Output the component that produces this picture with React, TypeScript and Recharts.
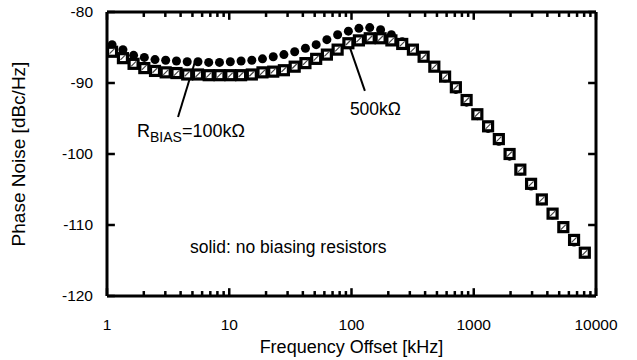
import React from 'react';
import { ScatterChart, Scatter, XAxis, YAxis, ReferenceLine, ReferenceDot } from 'recharts';

// ---- data ----
const freqKHz = [1.10, 1.35, 1.65, 2.02, 2.47, 3.02, 3.70, 4.53, 5.55, 6.79, 8.32, 10.2, 12.5, 15.3, 18.7, 22.9, 28.0, 34.3, 42.0, 51.4, 62.9, 77.0, 94.3, 115, 141, 173, 212, 260, 318, 389, 476, 583, 714, 874, 1070, 1310, 1604, 1964, 2405, 2944, 3605, 4414, 5404, 6616, 8100];
const noBias = [-84.6, -85.3, -86.1, -86.4, -86.7, -86.8, -86.9, -87.0, -87.0, -87.1, -87.1, -87.0, -86.9, -86.8, -86.6, -86.3, -86.0, -85.6, -85.1, -84.6, -83.9, -83.2, -82.7, -82.3, -82.2, -82.5, -83.2, -84.2, -85.2, -86.3, -87.8, -89.3, -90.9, -92.7, -94.6, -96.4, -98.2, -100.3, -102.4, -104.5, -106.6, -108.6, -110.5, -112.4, -114.1];
const rBias100k = [-85.6, -86.5, -87.3, -87.9, -88.3, -88.5, -88.6, -88.8, -88.8, -88.9, -88.9, -88.9, -88.9, -88.8, -88.5, -88.4, -88.2, -87.7, -87.2, -86.6, -86.0, -85.3, -84.4, -84.0, -83.7, -83.7, -84.0, -84.5, -85.3, -86.3, -87.7, -89.1, -90.6, -92.4, -94.4, -96.1, -97.9, -100.0, -102.2, -104.2, -106.4, -108.4, -110.3, -112.1, -113.9];
const rBias500k = [-85.5, -86.4, -87.3, -87.8, -88.2, -88.5, -88.6, -88.7, -88.8, -88.9, -88.9, -88.9, -88.8, -88.7, -88.5, -88.3, -88.1, -87.6, -87.1, -86.5, -85.9, -85.2, -84.3, -83.9, -83.7, -83.7, -84.0, -84.5, -85.3, -86.3, -87.7, -89.1, -90.6, -92.4, -94.4, -96.1, -97.9, -100.0, -102.2, -104.2, -106.4, -108.4, -110.3, -112.1, -113.9];

const xMajorTicks = [1, 10, 100, 1000, 10000];
const xMinorTicks = [2, 3, 4, 5, 6, 7, 8, 9, 20, 30, 40, 50, 60, 70, 80, 90, 200, 300, 400, 500, 600, 700, 800, 900, 2000, 3000, 4000, 5000, 6000, 7000, 8000, 9000];
const yTicks = [-120, -110, -100, -90, -80];

const rowsNoBias = freqKHz.map((f, i) => ({ f, v: noBias[i] }));
const rows100k = freqKHz.map((f, i) => ({ f, v: rBias100k[i] }));
const rows500k = freqKHz.map((f, i) => ({ f, v: rBias500k[i] }));

// ---- layout / styling ----
const W = 637;
const H = 360;
const PLOT_LEFT = 107;
const PLOT_RIGHT = 596;
const PLOT_TOP = 12;
const PLOT_BOTTOM = 296;
const FONT = '"Liberation Sans", Arial, Helvetica, sans-serif';
const INK = '#000000';
const X_MIN = 1;
const X_MAX = 10000;
const Y_MIN = -120;
const Y_MAX = -80;
const X_MAJOR_LEN = 1.1; // tick length in dB (~8px)
const X_MINOR_LEN = 0.7; // tick length in dB (~5px)
const Y_TICK_FACTOR = 1.16; // tick length on the log axis (~8px)

const TICK_SEGMENTS = [
  ...xMajorTicks.flatMap((t) => [
    { key: `xb${t}`, segment: [{ x: t, y: Y_MIN }, { x: t, y: Y_MIN + X_MAJOR_LEN }] },
    { key: `xt${t}`, segment: [{ x: t, y: Y_MAX }, { x: t, y: Y_MAX - X_MAJOR_LEN }] },
  ]),
  ...xMinorTicks.flatMap((t) => [
    { key: `mb${t}`, segment: [{ x: t, y: Y_MIN }, { x: t, y: Y_MIN + X_MINOR_LEN }] },
    { key: `mt${t}`, segment: [{ x: t, y: Y_MAX }, { x: t, y: Y_MAX - X_MINOR_LEN }] },
  ]),
  ...yTicks.flatMap((t) => [
    { key: `yl${t}`, segment: [{ x: X_MIN, y: t }, { x: X_MIN * Y_TICK_FACTOR, y: t }] },
    { key: `yr${t}`, segment: [{ x: X_MAX / Y_TICK_FACTOR, y: t }, { x: X_MAX, y: t }] },
  ]),
];

const renderBottomTick = (props: any) => {
  const { x, payload } = props;
  return (
    <text key={`bt-${payload.value}`} x={x} y={PLOT_BOTTOM + 34} textAnchor="middle" fontFamily={FONT} fontSize={15.5} fill={INK}>
      {payload.value}
    </text>
  );
};

const renderLeftTick = (props: any) => {
  const { y, payload } = props;
  return (
    <text key={`lt-${payload.value}`} x={PLOT_LEFT - 14} y={y + 5} textAnchor="end" fontFamily={FONT} fontSize={15.5} fill={INK}>
      {payload.value}
    </text>
  );
};

const DotShape = (props: any) => <circle cx={props.cx} cy={props.cy} r={4.5} fill={INK} />;
const SquareShape = (props: any) => (
  <rect x={props.cx - 4.5} y={props.cy - 4.5} width={9} height={9} fill="#fff" stroke={INK} strokeWidth={3.2} />
);
const SlashShape = (props: any) => (
  <line x1={props.cx - 2.5} y1={props.cy + 2.5} x2={props.cx + 2.5} y2={props.cy - 2.5} stroke="#444" strokeWidth={1.2} />
);
const Text500k = (props: any) => (
  <text x={props.cx} y={props.cy} fontFamily={FONT} fontSize={17.5} fill={INK}>500kΩ</text>
);

const DOT_EL = <DotShape />;
const SQUARE_EL = <SquareShape />;
const SLASH_EL = <SlashShape />;
const T500_EL = <Text500k />;

// annotation anchors (data coordinates)
const ann100kLine = [{ x: 3.81, y: -94.8 }, { x: 5.24, y: -87.0 }];
const ann500kLine = [{ x: 128.7, y: -91.1 }, { x: 93.5, y: -84.2 }];

const X_DOMAIN = [X_MIN, X_MAX];
const Y_DOMAIN = [Y_MIN, Y_MAX];
const MARGIN = { top: PLOT_TOP, right: W - PLOT_RIGHT, bottom: 0, left: 0 };
const X_LABEL = { value: 'Frequency Offset [kHz]', position: 'insideBottom', offset: 7, fontFamily: FONT, fontSize: 18, fill: INK };
const Y_LABEL = { value: 'Phase Noise [dBc/Hz]', angle: -90, position: 'insideLeft', offset: 18, fontFamily: FONT, fontSize: 19, fill: INK, style: { textAnchor: 'middle' } };

export default function App() {
  return (
    <div style={{ position: 'absolute', left: 0, top: 0, width: W, height: H, background: '#fff' }}>
      <ScatterChart width={W} height={H} margin={MARGIN}>
        <XAxis xAxisId="b" orientation="bottom" type="number" dataKey="f" scale="log" domain={X_DOMAIN} ticks={xMajorTicks} interval={0} allowDataOverflow height={H - PLOT_BOTTOM} stroke={INK} tickSize={0} tick={renderBottomTick} label={X_LABEL} />
        <YAxis yAxisId="l" type="number" domain={Y_DOMAIN} ticks={yTicks} width={PLOT_LEFT} stroke={INK} tickSize={0} tick={renderLeftTick} label={Y_LABEL} />
        <ReferenceLine xAxisId="b" yAxisId="l" x={X_MIN} stroke={INK} strokeWidth={3} ifOverflow="visible" />
        <ReferenceLine xAxisId="b" yAxisId="l" x={X_MAX} stroke={INK} strokeWidth={3} ifOverflow="visible" />
        <ReferenceLine xAxisId="b" yAxisId="l" y={Y_MAX} stroke={INK} strokeWidth={3} ifOverflow="visible" />
        <ReferenceLine xAxisId="b" yAxisId="l" y={Y_MIN} stroke={INK} strokeWidth={3} ifOverflow="visible" />
        {TICK_SEGMENTS.map((s) => (
          <ReferenceLine key={s.key} xAxisId="b" yAxisId="l" segment={s.segment} stroke={INK} strokeWidth={2.5} ifOverflow="visible" />
        ))}
        <Scatter data={rowsNoBias} dataKey="v" xAxisId="b" yAxisId="l" shape={DOT_EL} isAnimationActive={false} />
        <Scatter data={rows100k} dataKey="v" xAxisId="b" yAxisId="l" shape={SQUARE_EL} isAnimationActive={false} />
        <Scatter data={rows500k} dataKey="v" xAxisId="b" yAxisId="l" shape={SLASH_EL} isAnimationActive={false} />
        <ReferenceLine xAxisId="b" yAxisId="l" segment={ann100kLine} stroke={INK} strokeWidth={2} ifOverflow="visible" />
        <ReferenceLine xAxisId="b" yAxisId="l" segment={ann500kLine} stroke={INK} strokeWidth={2} ifOverflow="visible" />
        <ReferenceDot xAxisId="b" yAxisId="l" x={97} y={-94.5} ifOverflow="visible" shape={T500_EL} />
      </ScatterChart>
      <svg width={W} height={H} style={{ position: 'absolute', left: 0, top: 0, pointerEvents: 'none' }}>
        <text x={137} y={137} fontFamily={FONT} fontSize={18} fill={INK}>
          R<tspan fontSize={14} dy={5}>BIAS</tspan><tspan dy={-5}>=100kΩ</tspan>
        </text>
        <text x={190} y={253} fontFamily={FONT} fontSize={17.5} fill={INK}>solid: no biasing resistors</text>
      </svg>
    </div>
  );
}
